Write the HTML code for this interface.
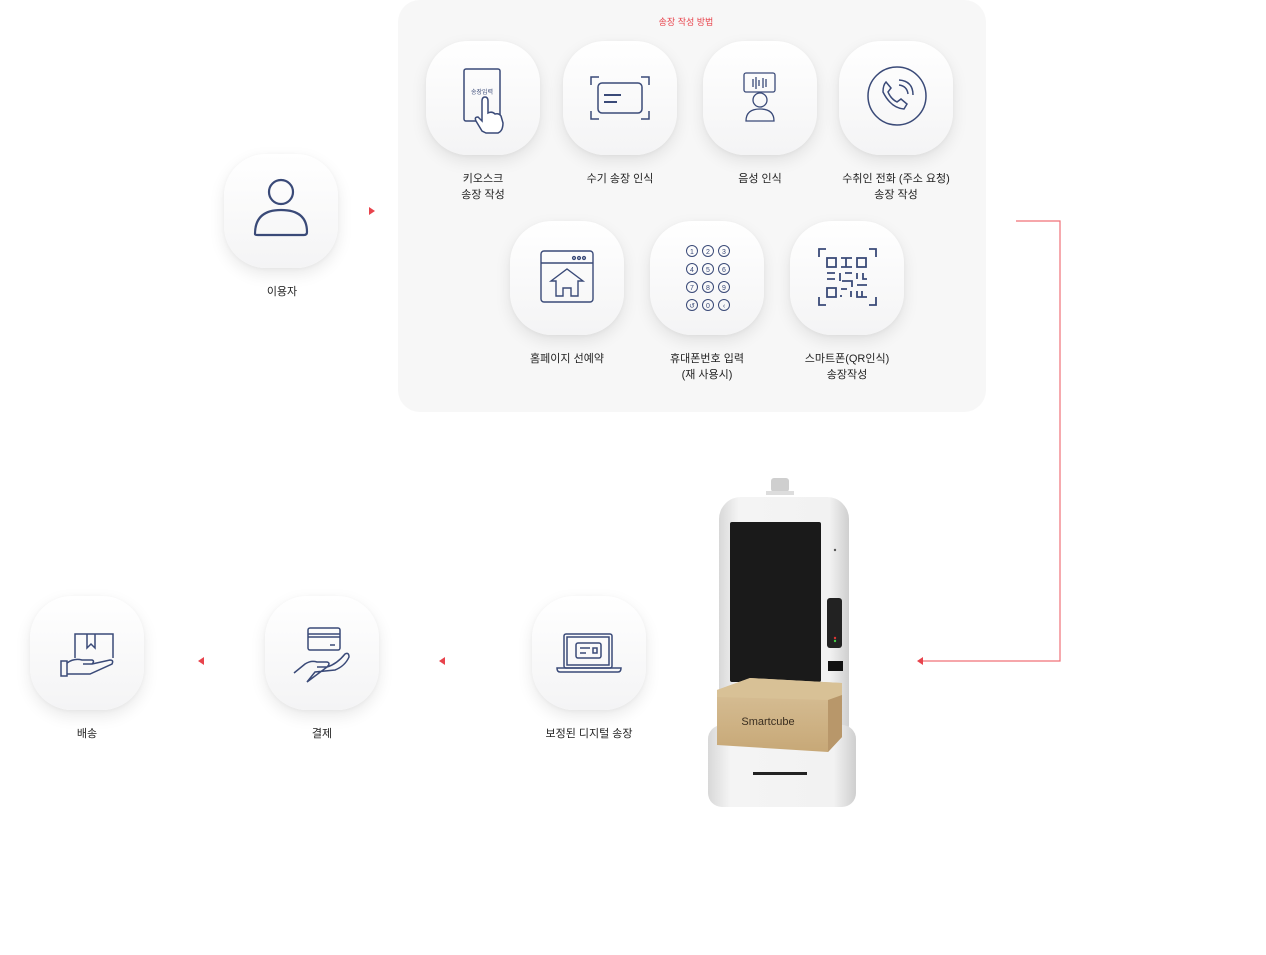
<!DOCTYPE html>
<html><head><meta charset="utf-8">
<style>
*{margin:0;padding:0;box-sizing:border-box}
body{width:1266px;height:955px;background:#fff;position:relative;overflow:hidden;font-family:"Liberation Sans","Noto Sans CJK KR",sans-serif;color:#222}
.panel{position:absolute;left:398px;top:0;width:588px;height:412px;background:#f7f7f7;border-radius:22px}
.tile{position:absolute;width:114px;height:114px;border-radius:42px;background:linear-gradient(180deg,#fff 0%,#f4f4f5 100%);box-shadow:0 6px 16px rgba(0,0,0,0.09),0 1px 4px rgba(0,0,0,0.04)}
.tile svg{position:absolute;left:0;top:0;width:114px;height:114px}
.lbl{position:absolute;font-size:11px;line-height:16px;text-align:center;width:160px;color:#222}
.tri{position:absolute;width:0;height:0}
</style></head><body>
<div class="panel"></div>
<div style="position:absolute;left:598px;top:15px;width:176px;text-align:center;font-size:9px;color:#e8434c">송장 작성 방법</div>

<div class="tile" style="left:224px;top:154px"><svg viewBox="0 0 114 114" fill="none" stroke="#3a4a78" stroke-width="2.2"><circle cx="57" cy="38" r="12"/><path d="M31 80 Q31 56 57 56 Q83 56 83 78 Q83 81 80 81 L34 81 Q31 81 31 80Z"/></svg></div>
<div class="lbl" style="left:202px;top:284px">이용자</div>
<div class="tri" style="left:369px;top:207px;border-left:6px solid #e8434c;border-top:4px solid transparent;border-bottom:4px solid transparent"></div>

<div class="tile" style="left:426px;top:41px"><svg viewBox="0 0 114 114" fill="none" stroke="#3a4a78" stroke-width="1.5"><rect x="38" y="28" width="36" height="52" rx="2"/><text x="56" y="53" font-size="6" fill="#3a4a78" stroke="none" text-anchor="middle">송장입력</text><path d="M56 90 L50 80 Q48 76 52 76 L56 80 L56 60 Q56 56 59 56 Q62 56 62 60 L62 72 Q66 70 69 73 Q73 72 75 75 L77 82 Q77 90 72 92 L60 92 Z" fill="#fff"/></svg></div>
<div class="lbl" style="left:403px;top:171px">키오스크<br>송장 작성</div>

<div class="tile" style="left:563px;top:41px"><svg viewBox="0 0 114 114" fill="none" stroke="#3a4a78" stroke-width="1.5"><rect x="35" y="42" width="44" height="30" rx="4"/><path d="M41 54H58M41 61H54" stroke-width="2"/><path d="M28 44V36H36M86 44V36H78M28 70V78H36M86 70V78H78" stroke-width="1.5"/></svg></div>
<div class="lbl" style="left:540px;top:171px">수기 송장 인식</div>

<div class="tile" style="left:703px;top:41px"><svg viewBox="0 0 114 114" fill="none" stroke="#3a4a78" stroke-width="1.3"><rect x="41" y="32" width="31" height="19" rx="2"/><path d="M50 38v8M53 36v12M56 39v6M60 37v10M63 38v8"/><circle cx="57" cy="59" r="7"/><path d="M43 80 Q43 68 57 68 Q71 68 71 80Z"/></svg></div>
<div class="lbl" style="left:680px;top:171px">음성 인식</div>

<div class="tile" style="left:839px;top:41px"><svg viewBox="0 0 114 114" fill="none" stroke="#3a4a78" stroke-width="1.5"><circle cx="58" cy="55" r="29"/><path d="M47 41 L52 47 L49 51 Q52 58 58 61 L62 58 L68 63 L65 68 Q52 67 44 51 Q44 44 47 41Z"/><path d="M60 44 Q68 45 69 53M60 39 Q74 40 74 54"/></svg></div>
<div class="lbl" style="left:816px;top:171px">수취인 전화 (주소 요청)<br>송장 작성</div>

<div class="tile" style="left:510px;top:221px"><svg viewBox="0 0 114 114" fill="none" stroke="#3a4a78" stroke-width="1.4"><rect x="31" y="30" width="52" height="51" rx="3"/><path d="M31 42H83"/><circle cx="64" cy="37" r="1.4"/><circle cx="69" cy="37" r="1.4"/><circle cx="74" cy="37" r="1.4"/><path d="M41 60 L57 48 L73 60 L68 60 L68 75 L61 75 L61 67 L53 67 L53 75 L46 75 L46 60Z"/></svg></div>
<div class="lbl" style="left:487px;top:351px">홈페이지 선예약</div>

<div class="tile" style="left:650px;top:221px"><svg viewBox="0 0 114 114" fill="none" stroke="#3a4a78" stroke-width="1"><g font-size="7" fill="#3a4a78" stroke="none" text-anchor="middle">
<text x="42" y="33">1</text><text x="58" y="33">2</text><text x="74" y="33">3</text>
<text x="42" y="51">4</text><text x="58" y="51">5</text><text x="74" y="51">6</text>
<text x="42" y="69">7</text><text x="58" y="69">8</text><text x="74" y="69">9</text>
<text x="42" y="87">↺</text><text x="58" y="87">0</text><text x="74" y="87">‹</text></g>
<circle cx="42" cy="30" r="5.5"/><circle cx="58" cy="30" r="5.5"/><circle cx="74" cy="30" r="5.5"/>
<circle cx="42" cy="48" r="5.5"/><circle cx="58" cy="48" r="5.5"/><circle cx="74" cy="48" r="5.5"/>
<circle cx="42" cy="66" r="5.5"/><circle cx="58" cy="66" r="5.5"/><circle cx="74" cy="66" r="5.5"/>
<circle cx="42" cy="84" r="5.5"/><circle cx="58" cy="84" r="5.5"/><circle cx="74" cy="84" r="5.5"/></svg></div>
<div class="lbl" style="left:627px;top:351px">휴대폰번호 입력<br>(재 사용시)</div>

<div class="tile" style="left:790px;top:221px"><svg viewBox="0 0 114 114" fill="none" stroke="#3a4a78" stroke-width="1.8"><path d="M29 36V28H36M86 36V28H79M29 76V84H36M86 76V84H79"/><rect x="37" y="37" width="9" height="9"/><rect x="67" y="37" width="9" height="9"/><rect x="37" y="67" width="9" height="9"/><path d="M51 37H62M56 37V46M51 46H62M37 52H45M50 52V60M55 52H62M67 52V58M73 52V58H77M37 58H45M52 60H62V66M67 64H77M51 68H57M51 74V76M61 70V76M67 70V76H77M72 70V76"/></svg></div>
<div class="lbl" style="left:767px;top:351px">스마트폰(QR인식)<br>송장작성</div>

<div class="tile" style="left:30px;top:596px"><svg viewBox="0 0 114 114" fill="none" stroke="#3a4a78" stroke-width="1.5"><path d="M45 62V38H83V62"/><path d="M57 38V52L61 48L65 52V38"/><rect x="31" y="65" width="6" height="15"/><path d="M37 67 Q44 62 52 64 L62 64 Q65 65 62 68 L53 68 M62 68 L80 64 Q84 64 82 68 L60 78 L37 78"/></svg></div>
<div class="lbl" style="left:7px;top:726px">배송</div>
<div class="tri" style="left:198px;top:657px;border-right:6px solid #e8434c;border-top:4px solid transparent;border-bottom:4px solid transparent"></div>

<div class="tile" style="left:265px;top:596px"><svg viewBox="0 0 114 114" fill="none" stroke="#3a4a78" stroke-width="1.5"><rect x="43" y="32" width="32" height="22" rx="2"/><path d="M43 38H75M43 41H75M65 49H70"/><path d="M29 77 L40 68 Q46 64 52 66 L62 66 Q66 67 62 71 L52 71 M62 71 Q72 68 80 58 Q84 56 84 61 Q80 70 70 74 L50 76 L42 86Z"/></svg></div>
<div class="lbl" style="left:242px;top:726px">결제</div>
<div class="tri" style="left:439px;top:657px;border-right:6px solid #e8434c;border-top:4px solid transparent;border-bottom:4px solid transparent"></div>

<div class="tile" style="left:532px;top:596px"><svg viewBox="0 0 114 114" fill="none" stroke="#3a4a78" stroke-width="1.5"><rect x="32" y="38" width="48" height="34" rx="2"/><rect x="35" y="41" width="42" height="28"/><rect x="44" y="47" width="25" height="15" rx="2"/><path d="M48 52H58M48 57H54"/><rect x="61" y="52" width="4" height="5"/><path d="M25 72H89 Q89 76 86 76H28 Q25 76 25 72Z"/></svg></div>
<div class="lbl" style="left:509px;top:726px">보정된 디지털 송장</div>

<svg style="position:absolute;left:0;top:0" width="1266" height="955"><path d="M1016 221H1060V661H922" fill="none" stroke="#f07078" stroke-width="1.2"/><path d="M917 661L923 657V665Z" fill="#e8434c"/></svg>

<svg style="position:absolute;left:690px;top:475px" width="200" height="340" viewBox="0 0 200 340">
<defs><linearGradient id="b" x1="0" x2="1"><stop offset="0" stop-color="#d8d8d8"/><stop offset=".15" stop-color="#f4f4f4"/><stop offset=".85" stop-color="#f2f2f2"/><stop offset="1" stop-color="#cfcfcf"/></linearGradient>
<linearGradient id="bx" x1="0" y1="0" x2="0" y2="1"><stop offset="0" stop-color="#d9c29a"/><stop offset="1" stop-color="#c7a877"/></linearGradient></defs>
<rect x="81" y="3" width="18" height="14" rx="3" fill="#cfcfcf"/>
<rect x="76" y="16" width="28" height="4" fill="#ddd"/>
<rect x="29" y="22" width="130" height="250" rx="22" fill="url(#b)"/>
<rect x="40" y="47" width="91" height="160" rx="2" fill="#1a1a1a"/>
<rect x="137" y="123" width="15" height="50" rx="3" fill="#222"/>
<circle cx="145" cy="166" r="1.2" fill="#4c4"/><circle cx="145" cy="163" r="1.2" fill="#d33"/>
<rect x="138" y="186" width="15" height="10" fill="#111"/>
<circle cx="145" cy="75" r="1.2" fill="#555"/>
<rect x="18" y="250" width="148" height="82" rx="14" fill="url(#b)"/>
<rect x="63" y="297" width="54" height="3" fill="#222"/>
<path d="M27 215 L60 203 L152 208 L152 262 L138 277 L27 270Z" fill="url(#bx)"/>
<path d="M27 215 L60 203 L152 208 L152 220 L138 225 L27 222Z" fill="#d8c196"/>
<path d="M138 225 L152 220 L152 262 L138 277Z" fill="#b8976a"/>
<text x="78" y="250" font-size="11" fill="#3a2e20" text-anchor="middle" font-family="Liberation Sans,sans-serif">Smartcube</text>
</svg>
</body></html>
